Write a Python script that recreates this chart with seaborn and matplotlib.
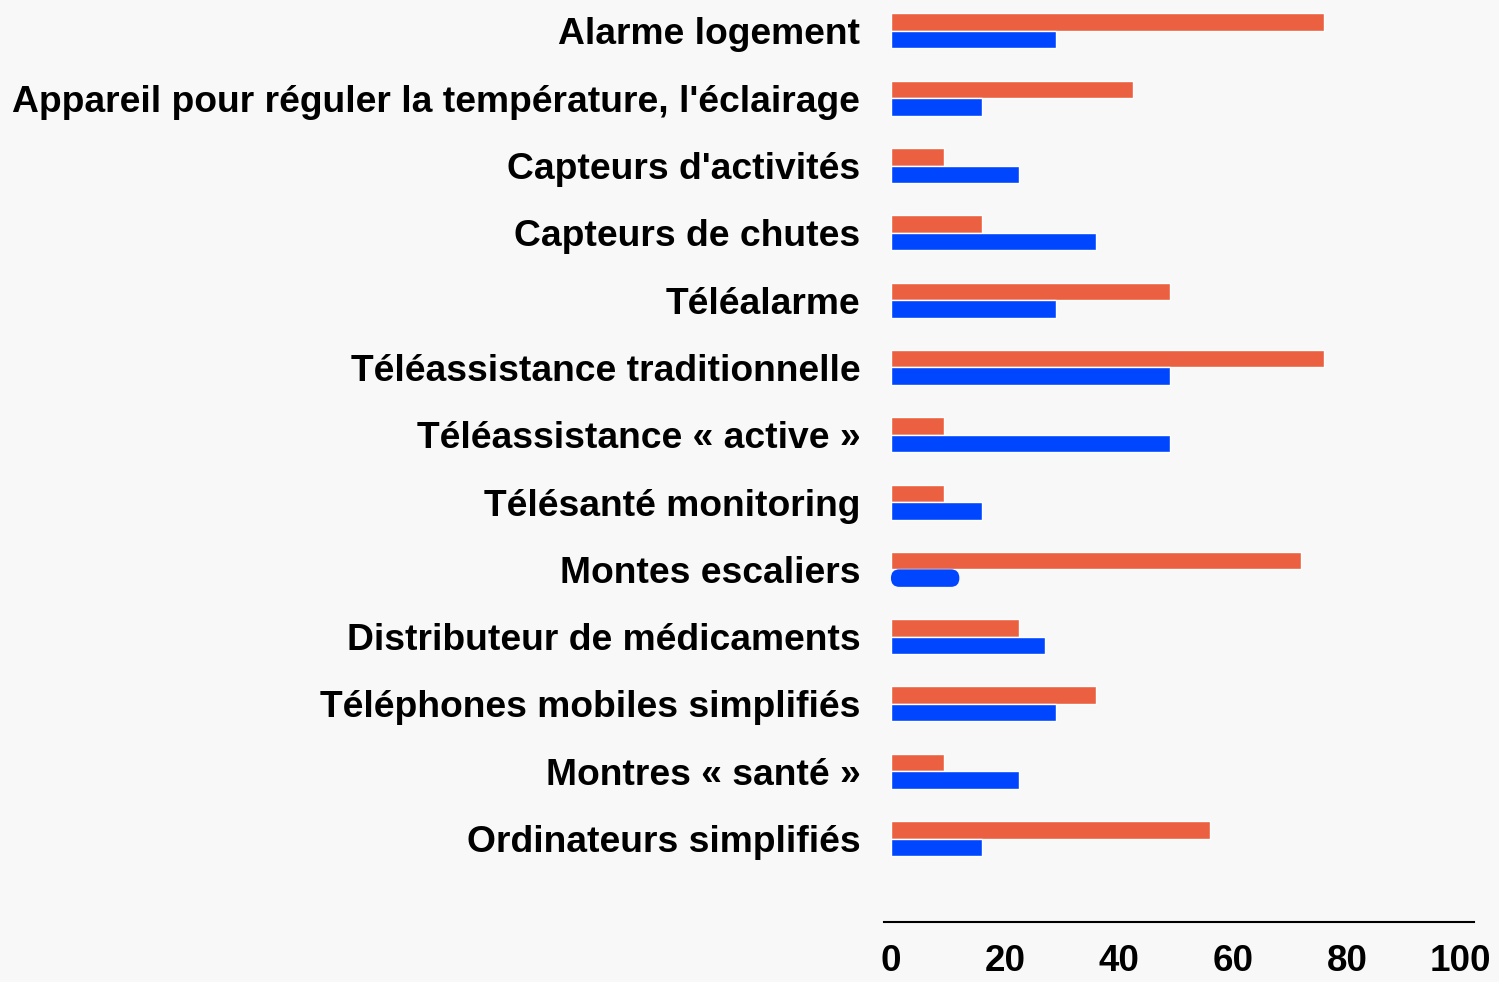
import numpy as np
import pandas as pd
import seaborn as sns
import matplotlib.pyplot as plt
from matplotlib.patches import FancyBboxPatch

categories = [
    "Alarme logement",
    "Appareil pour réguler la température, l'éclairage",
    "Capteurs d'activités",
    "Capteurs de chutes",
    "Téléalarme",
    "Téléassistance traditionnelle",
    "Téléassistance « active »",
    "Télésanté monitoring",
    "Montes escaliers",
    "Distributeur de médicaments",
    "Téléphones mobiles simplifiés",
    "Montres « santé »",
    "Ordinateurs simplifiés",
]
orange_vals = [76, 42.5, 9.3, 16, 49, 76, 9.3, 9.3, 72, 22.5, 36, 9.3, 56]
blue_vals = [29, 16, 22.5, 36, 29, 49, 49, 16, 12, 27, 29, 22.5, 16]
series = ["Série 1", "Série 2"]
ticks = [0, 20, 40, 60, 80, 100]

ORANGE = "#EA6040"
BLUE = "#0046FF"

df = pd.DataFrame({
    "categorie": categories * 2,
    "valeur": orange_vals + blue_vals,
    "serie": [series[0]] * len(categories) + [series[1]] * len(categories),
})

sns.set_theme(style="white")
plt.rcParams["font.family"] = ["Liberation Sans", "DejaVu Sans"]
plt.rcParams["text.color"] = "black"
plt.rcParams["xtick.color"] = "black"
plt.rcParams["ytick.color"] = "black"

fig = plt.figure(figsize=(14.99, 9.82), dpi=100)
fig.patch.set_facecolor("#F8F8F8")
ax = fig.add_axes([0.5897, 0.0611, 0.3936, 0.9389])
ax.set_facecolor("none")

sns.barplot(data=df, y="categorie", x="valeur", hue="serie", hue_order=series,
            palette=[ORANGE, BLUE], orient="h", width=0.52, saturation=1,
            legend=False, ax=ax)

# rounded blue bar for "Montes escaliers"
idx = categories.index("Montes escaliers")
bar = ax.containers[1].patches[idx]
x0, y0, w, h = bar.get_x(), bar.get_y(), bar.get_width(), bar.get_height()
bar.set_visible(False)
r = 1.46
ax.add_patch(FancyBboxPatch((x0, y0), w, h,
                            boxstyle=f"round,pad=0,rounding_size={r}",
                            mutation_aspect=(h / 2) / r,
                            facecolor=BLUE, edgecolor="none"))

ax.set_xlim(-1.23, 102.3)
ax.set_ylim(len(categories) - 1 + 1.24, -0.46)
ax.set_xticks(ticks)
ax.set_xticklabels([str(t) for t in ticks], fontsize=26.5, fontweight="bold",
                   color="black")
ax.tick_params(axis="x", length=0, pad=16)
ax.tick_params(axis="y", length=0, pad=17, labelsize=26.8, labelcolor="black")
for lab in ax.get_yticklabels():
    lab.set_fontweight("bold")
ax.set_xlabel("")
ax.set_ylabel("")
for s in ["top", "right", "left"]:
    ax.spines[s].set_visible(False)
ax.spines["bottom"].set_color("black")
ax.spines["bottom"].set_linewidth(1.5)

fig.savefig("out.png", dpi=100, facecolor=fig.get_facecolor())
